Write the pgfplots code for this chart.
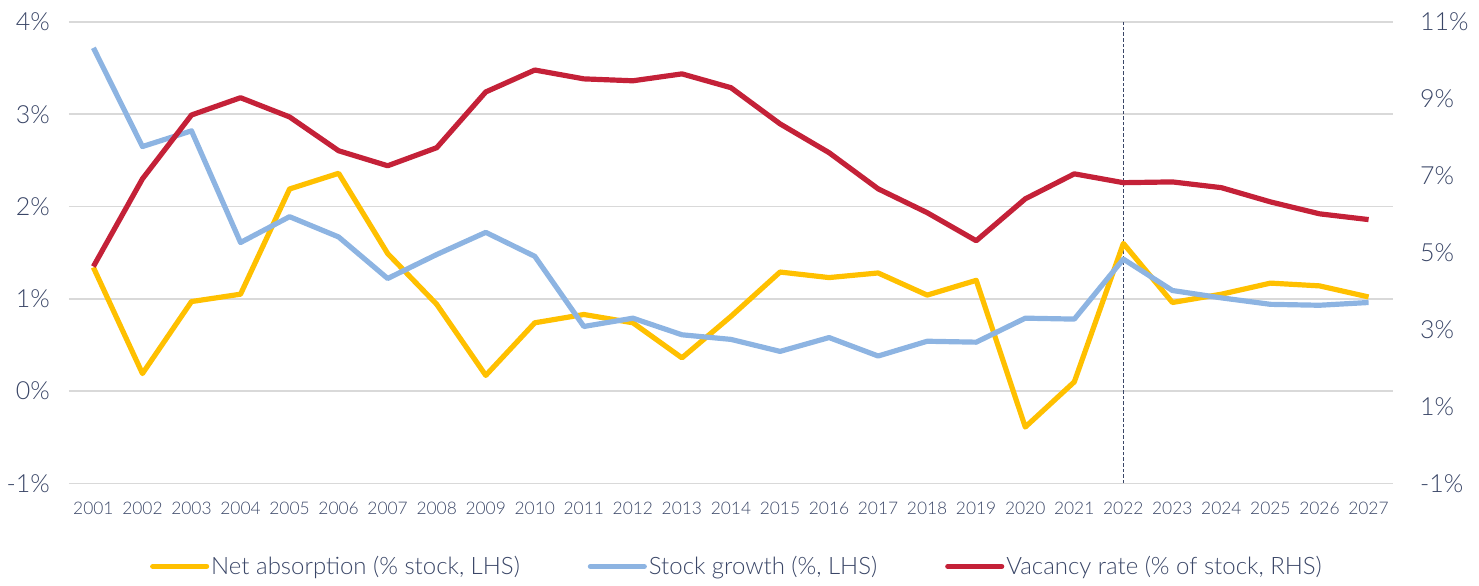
\documentclass[border=0pt]{standalone}
\usepackage{fontspec}
\setmainfont{Lato Light}
\usepackage{pgfplots}
\pgfplotsset{compat=1.18}
\definecolor{yel}{HTML}{FFC000}
\definecolor{blu}{HTML}{8DB4E2}
\definecolor{redc}{HTML}{C42138}
\definecolor{txt}{HTML}{3A4667}
\definecolor{gridc}{HTML}{D9D9D9}
\begin{document}
\begin{tikzpicture}
\pgfplotsset{
  base/.style={
    width=663pt, height=231pt, scale only axis,
    xmin=2000.5, xmax=2027.5,
    axis line style={draw=none},
    tick style={draw=none},
    major tick length=0pt,
    tick label style={text=txt},
    /pgf/number format/assume math mode=true,
    /pgf/number format/1000 sep={},
  }
}
\begin{axis}[base, name=ax,
  ymin=-1, ymax=4,
  ytick={-1,0,1,2,3,4},
  yticklabels={-1\%,0\%,1\%,2\%,3\%,4\%},
  ymajorgrids, grid style={draw=gridc, line width=0.8pt},
  xtick={2001,...,2027},
  x tick label style={font=\fontsize{8.7}{10}\selectfont, yshift=-6pt},
  y tick label style={font=\fontsize{12.5}{14}\selectfont, xshift=-6pt},
]
\addplot[txt, line width=0.6pt, dash pattern=on 1.8pt off 1pt, forget plot] coordinates {(2022,-1) (2022,4)};
\addplot[yel, line width=2.6pt, line join=round] coordinates {
(2001,1.34) (2002,0.19) (2003,0.97) (2004,1.05) (2005,2.19) (2006,2.36) (2007,1.49)
(2008,0.94) (2009,0.17) (2010,0.74) (2011,0.83) (2012,0.74) (2013,0.36) (2014,0.81)
(2015,1.29) (2016,1.23) (2017,1.28) (2018,1.04) (2019,1.20) (2020,-0.39) (2021,0.10)
(2022,1.60) (2023,0.96) (2024,1.05) (2025,1.17) (2026,1.14) (2027,1.02)};
\addplot[blu, line width=2.6pt, line join=round] coordinates {
(2001,3.72) (2002,2.65) (2003,2.82) (2004,1.61) (2005,1.89) (2006,1.67) (2007,1.22)
(2008,1.48) (2009,1.72) (2010,1.46) (2011,0.70) (2012,0.79) (2013,0.61) (2014,0.56)
(2015,0.43) (2016,0.58) (2017,0.38) (2018,0.54) (2019,0.53) (2020,0.79) (2021,0.78)
(2022,1.43) (2023,1.09) (2024,1.01) (2025,0.94) (2026,0.93) (2027,0.96)};
\end{axis}
\begin{axis}[base,
  axis x line=none, axis y line*=right,
  ymin=-1, ymax=11,
  ytick={-1,1,3,5,7,9,11},
  yticklabels={-1\%,1\%,3\%,5\%,7\%,9\%,11\%},
  y tick label style={font=\fontsize{12.5}{14}\selectfont, xshift=10pt},
  legend style={at={(0.5045,-0.18)}, anchor=center, draw=none, fill=none,
    legend columns=-1, font=\fontsize{12}{14}\selectfont, text=txt,
    nodes={inner xsep=1pt},
    /tikz/every even column/.append style={column sep=33pt}},
  legend image code/.code={\draw[#1, line width=2.6pt, line cap=round] (0pt,0pt) -- (27pt,0pt);},
]
\addlegendimage{yel}\addlegendentry{Net absorption (\% stock, LHS)}
\addlegendimage{blu}\addlegendentry{Stock growth (\%, LHS)}
\addplot[redc, line width=2.6pt, line join=round] coordinates {
(2001,4.64) (2002,6.92) (2003,8.58) (2004,9.03) (2005,8.53) (2006,7.65) (2007,7.26)
(2008,7.73) (2009,9.18) (2010,9.75) (2011,9.52) (2012,9.47) (2013,9.65) (2014,9.29)
(2015,8.35) (2016,7.60) (2017,6.66) (2018,6.04) (2019,5.31) (2020,6.40) (2021,7.05)
(2022,6.82) (2023,6.84) (2024,6.69) (2025,6.32) (2026,6.01) (2027,5.86)};
\addlegendentry{Vacancy rate (\% of stock, RHS)}
\end{axis}
\path (ax.south west) ++(-33.5pt,-47.5pt) coordinate (bl);
\path (ax.south west) ++(706pt,242pt) coordinate (tr);
\path (bl) rectangle (tr);
\end{tikzpicture}
\end{document}
